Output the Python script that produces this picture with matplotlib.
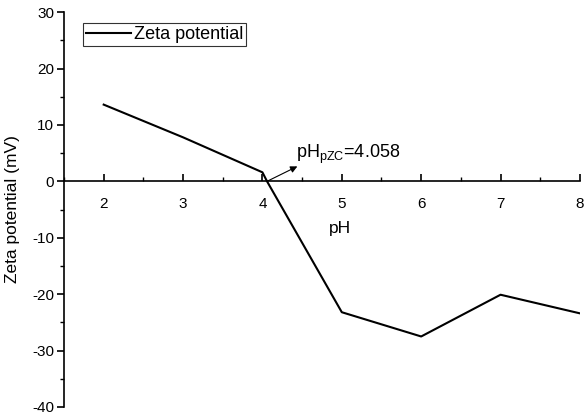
import matplotlib
matplotlib.use("Agg")
import matplotlib.pyplot as plt
from matplotlib.ticker import MultipleLocator

plt.rcParams['font.family'] = ['Liberation Sans', 'DejaVu Sans']
plt.rcParams['axes.unicode_minus'] = False
plt.rcParams['mathtext.fontset'] = 'custom'
plt.rcParams['mathtext.rm'] = 'Liberation Sans'

ph = [2, 3, 4, 4.058, 5, 6, 7, 8]
zeta = [13.6, 7.8, 1.6, 0.0, -23.2, -27.5, -20.1, -23.4]
pzc = 4.058

fig = plt.figure(figsize=(5.84, 4.17), dpi=100)
ax = fig.add_axes([0.1096, 0.024, 0.8834, 0.947])

ax.plot(ph, zeta, color='black', lw=1.5, label='Zeta potential')

ax.set_xlim(1.5, 8)
ax.set_ylim(-40, 30)

ax.spines['top'].set_visible(False)
ax.spines['right'].set_visible(False)
ax.spines['bottom'].set_position(('data', 0))
for s in ('left', 'bottom'):
    ax.spines[s].set_linewidth(1.2)

ax.xaxis.set_major_locator(MultipleLocator(1))
ax.xaxis.set_minor_locator(MultipleLocator(0.5))
ax.yaxis.set_major_locator(MultipleLocator(10))
ax.yaxis.set_minor_locator(MultipleLocator(5))
ax.set_xticks([2, 3, 4, 5, 6, 7, 8])

ax.tick_params(axis='x', which='major', direction='in', length=5, width=1.2, labelsize=11, pad=11)
ax.tick_params(axis='x', which='minor', direction='in', length=3, width=1.0)
ax.tick_params(axis='y', which='major', direction='out', length=5, width=1.2, labelsize=11, pad=2)
ax.tick_params(axis='y', which='minor', direction='out', length=3, width=1.0)

ax.set_ylabel('Zeta potential (mV)', fontsize=12.5, labelpad=2)
ax.yaxis.set_label_coords(-0.085, 0.5)
ax.set_xlabel('pH', fontsize=12.5)
ax.xaxis.set_label_coords(0.535, 0.472)

ax.annotate('', xy=(4.44, 2.65), xytext=(pzc, 0),
            arrowprops=dict(arrowstyle='-|>', color='black', lw=0.8, mutation_scale=10,
                            shrinkA=0, shrinkB=0))
ax.text(4.42, 4.2, r'pH$_{\mathrm{pZC}}$=4.058', fontsize=13, va='baseline', ha='left')

leg = ax.legend(loc='upper left', bbox_to_anchor=(0.037, 0.972), fontsize=13,
                frameon=True, fancybox=False, edgecolor='black', borderpad=0.15,
                handlelength=2.5, handletextpad=0.15, borderaxespad=0)
leg.get_frame().set_linewidth(0.8)

fig.savefig('out.png', dpi=100)
